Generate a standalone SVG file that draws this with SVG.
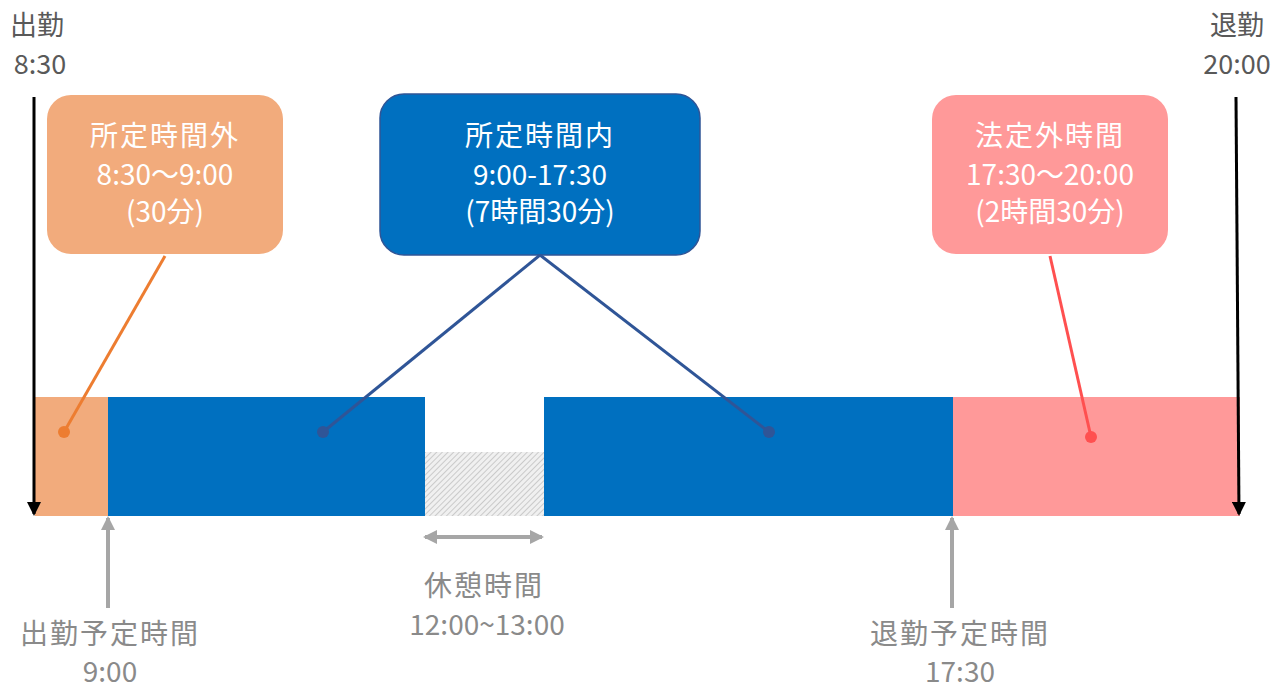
<svg xmlns="http://www.w3.org/2000/svg" width="1285" height="690" viewBox="0 0 1285 690">
<style>
.lbl{font-family:"Noto Sans CJK JP","Noto Sans",sans-serif;font-size:28px;text-anchor:middle}
.top{fill:#595959;font-size:27px}
.bot{fill:#8a8a8a}
.box{font-family:"Noto Sans CJK JP","Noto Sans",sans-serif;font-size:28px;text-anchor:middle;fill:#ffffff}
</style>
<defs>
<pattern id="hatch" width="4" height="4" patternUnits="userSpaceOnUse" patternTransform="rotate(45)">
<rect width="4" height="4" fill="#f0f0f0"/>
<line x1="0" y1="0" x2="0" y2="4" stroke="#b5b5b5" stroke-width="1.3"/>
</pattern>
<marker id="blk" markerWidth="14" markerHeight="14" refX="12" refY="7" orient="auto" markerUnits="userSpaceOnUse" viewBox="0 0 14 14">
<path d="M0,0 L14,7 L0,14 Z" fill="#000"/>
</marker>
<marker id="gry" markerWidth="14" markerHeight="14" refX="12" refY="7" orient="auto-start-reverse" markerUnits="userSpaceOnUse" viewBox="0 0 14 14">
<path d="M0,0 L14,7 L0,14 Z" fill="#a6a6a6"/>
</marker>
</defs>
<rect width="1285" height="690" fill="#ffffff"/>
<g id="timeline">
<rect x="35" y="397" width="73" height="119" fill="#f2ab7c"/>
<rect x="108" y="397" width="317" height="119" fill="#0070c0"/>
<rect x="425" y="452" width="119" height="64" fill="url(#hatch)"/>
<rect x="544" y="397" width="409" height="119" fill="#0070c0"/>
<rect x="953" y="397" width="287" height="119" fill="#ff9999"/>
</g>
<g id="node-outside">
<rect x="47" y="95" width="236" height="159" rx="24" fill="#f2ab7c"/>
<text class="box" x="165" y="146" letter-spacing="2">所定時間外</text>
<text class="box" x="165" y="185">8:30～9:00</text>
<text class="box" x="165" y="222">(30分)</text>
</g>
<g id="node-inside">
<rect x="380" y="94" width="320" height="161" rx="24" fill="#0070c0" stroke="#2f5597" stroke-width="1.5"/>
<text class="box" x="540" y="146" letter-spacing="2">所定時間内</text>
<text class="box" x="540" y="185">9:00-17:30</text>
<text class="box" x="540" y="222">(7時間30分)</text>
</g>
<g id="node-legal">
<rect x="932" y="95" width="236" height="159" rx="24" fill="#ff9999"/>
<text class="box" x="1050" y="146" letter-spacing="2">法定外時間</text>
<text class="box" x="1050" y="185">17:30～20:00</text>
<text class="box" x="1050" y="222">(2時間30分)</text>
</g>
<g id="labels">
<text class="lbl top" x="37" y="35">出勤</text>
<text class="lbl top" x="40" y="74">8:30</text>
<text class="lbl top" x="1237" y="35">退勤</text>
<text class="lbl top" x="1237" y="74">20:00</text>
<text class="lbl bot" x="110" y="644" letter-spacing="2">出勤予定時間</text>
<text class="lbl bot" x="110" y="682">9:00</text>
<text class="lbl bot" x="484" y="596" letter-spacing="2">休憩時間</text>
<text class="lbl bot" x="487" y="635">12:00~13:00</text>
<text class="lbl bot" x="960" y="644" letter-spacing="2">退勤予定時間</text>
<text class="lbl bot" x="960" y="682">17:30</text>
</g>
<g id="connectors" fill="none">
<line x1="34" y1="97" x2="34" y2="514" stroke="#000" stroke-width="3" marker-end="url(#blk)"/>
<line x1="1236" y1="97" x2="1239" y2="514" stroke="#000" stroke-width="3" marker-end="url(#blk)"/>
<line x1="108" y1="608" x2="108" y2="518" stroke="#a6a6a6" stroke-width="4" marker-end="url(#gry)"/>
<line x1="952" y1="608" x2="952" y2="518" stroke="#a6a6a6" stroke-width="4" marker-end="url(#gry)"/>
<line x1="425" y1="537" x2="542" y2="537" stroke="#a6a6a6" stroke-width="4" marker-start="url(#gry)" marker-end="url(#gry)"/>
<line x1="165" y1="256" x2="64" y2="432" stroke="#ed7d31" stroke-width="3"/>
<circle cx="64" cy="432" r="6" fill="#ed7d31"/>
<line x1="540" y1="255" x2="323" y2="432" stroke="#2f5597" stroke-width="3"/>
<circle cx="323" cy="432" r="6" fill="#2f5597"/>
<line x1="540" y1="255" x2="769" y2="432" stroke="#2f5597" stroke-width="3"/>
<circle cx="769" cy="432" r="6" fill="#2f5597"/>
<line x1="1050" y1="256" x2="1091" y2="437" stroke="#ff5050" stroke-width="3"/>
<circle cx="1091" cy="437" r="6" fill="#ff5050"/>
</g>
</svg>
